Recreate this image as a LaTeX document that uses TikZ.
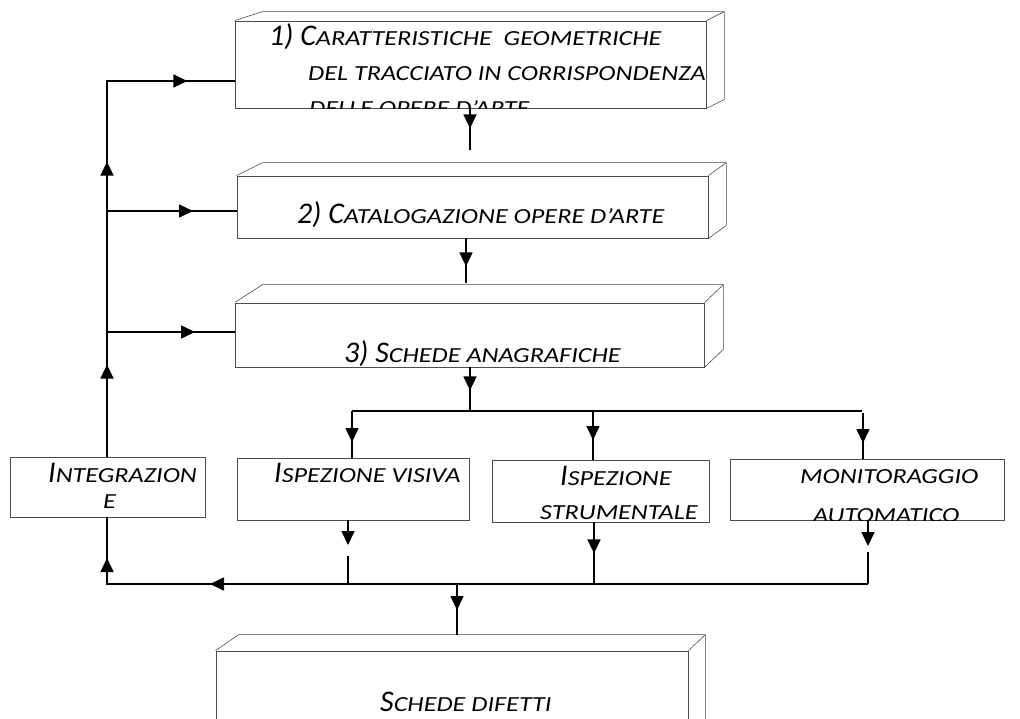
\documentclass[tikz,border=0pt]{standalone}
\usepackage{fontspec}
\setmainfont{Carlito}
\newfontfamily\pcfont{Carlito}[FakeStretch=1.22]
\usetikzlibrary{arrows.meta, calc, decorations.markings}

% maiuscoletto finto: lettere piccole
\newcommand\pc[1]{{\pcfont\fontsize{21.5}{25}\selectfont #1}}
% facce superiore e laterale dei blocchi 3D
\newcommand\facce[4]{\draw[face] (#1.north west) -- ++(#2,-#4) -- ($(#1.north east)+(#3,-#4)$) -- ($(#1.south east)+(#3,-#4)$) -- (#1.south east) (#1.north east) -- ++(#3,-#4);}

\begin{document}
\begin{tikzpicture}[
    x=1pt, y=-1pt,
    box/.style={draw=black!70, line width=0.8pt, inner sep=0pt},
    face/.style={draw=black!70, line width=0.6pt},
    testo/.style={anchor=base west, inner sep=0pt, font=\fontsize{30}{36}\selectfont\itshape},
    conn/.style={line width=1.6pt},
    tip/.style={-{Triangle[length=14pt, width=13pt]}},
    freccia/.style={postaction={decorate, decoration={markings, mark=at position #1 with {\arrow{Triangle[length=14pt, width=13pt]}}}}}
]
\useasboundingbox (0,0) rectangle (1020,718);
\clip (0,0) rectangle (1020,718);

% Blocchi
\node[box, minimum width=471pt, minimum height=87pt] (car) at (470.5,64.5) {};
\node[box, minimum width=471pt, minimum height=62pt] (cat) at (472.5,207) {};
\node[box, minimum width=469pt, minimum height=64pt] (sch) at (469.5,335) {};
\node[box, minimum width=195pt, minimum height=60pt] (integ) at (107.5,487) {};
\node[box, minimum width=232pt, minimum height=62pt] (vis) at (353,489) {};
\node[box, minimum width=217pt, minimum height=62pt] (strum) at (600.5,491) {};
\node[box, minimum width=274pt, minimum height=61pt] (monit) at (867,489.5) {};
\node[box, minimum width=472pt, minimum height=90pt] (dif) at (452,696) {};

\facce{car}{28}{18}{9}
\facce{cat}{26}{18}{13}
\facce{sch}{28}{19}{18}
\facce{dif}{23}{17}{16}

% Testi
\node[testo] (car1) at (269,45) {1) C\pc{ARATTERISTICHE\ \ GEOMETRICHE}};
\node[testo] (car2) at (308,80) {\pc{DEL TRACCIATO IN CORRISPONDENZA}};
\begin{scope}
  \clip (car.south west) rectangle (car.north east);
  \node[testo] (car3) at (309,115) {\pc{DELLE OPERE D’ARTE}};
\end{scope}
\node[testo] (cat1) at (297,223) {2) C\pc{ATALOGAZIONE OPERE D’ARTE}};
\node[testo] (sch1) at (344,362) {3) S\pc{CHEDE ANAGRAFICHE}};
\node[testo] (integ1) at (48,482) {I\pc{NTEGRAZION}};
\node[testo] (integ2) at (103,508) {\pc{E}};
\node[testo] (vis1) at (274,482) {I\pc{SPEZIONE VISIVA}};
\node[testo] (strum1) at (560,485) {I\pc{SPEZIONE}};
\node[testo] (strum2) at (540,519) {\pc{STRUMENTALE}};
\node[testo] (monit1) at (800,483) {\pc{MONITORAGGIO}};
\begin{scope}
  \clip (monit.south west) rectangle (monit.north east);
  \node[testo] (monit2) at (813,522) {\pc{AUTOMATICO}};
\end{scope}
\node[testo] (dif1) at (380,711) {S\pc{CHEDE DIFETTI}};

% Punti dei collegamenti
\coordinate (sAlto) at (107,81);
\coordinate (s2) at (107,211);
\coordinate (s3) at (107,332);
\coordinate (c1) at (470,150);
\coordinate (c2) at (466,283);
\coordinate (b0) at (470,411);
\coordinate (b1) at (352,411);
\coordinate (b2) at (593,411);
\coordinate (b3) at (862,411);
\coordinate (b3g) at (863,413);
\coordinate (v1) at (348,545);
\coordinate (v2) at (348,556);
\coordinate (m1) at (868,546);
\coordinate (m2) at (868,552);
\coordinate (d0) at (107,584);
\coordinate (d1) at (348,584);
\coordinate (d2) at (594,584);
\coordinate (d3) at (868,584);
\coordinate (dd) at (457,584);
\coordinate (e1) at (457,635);

% Ritorno a sinistra
\draw[conn, freccia=92pt, freccia=295pt, freccia=456pt] (integ.north -| sAlto) -- (sAlto) -- (car.west |- sAlto);
\draw[conn, freccia=86pt] (s2) -- (cat.west |- s2);
\draw[conn, freccia=88pt] (s3) -- (sch.west |- s3);

% Colonna centrale
\draw[conn, freccia=20pt] (car.south -| c1) -- (c1);
\draw[conn, freccia=28pt] (cat.south -| c2) -- (c2);
\draw[conn, freccia=23pt] (sch.south -| b0) -- (b0);
\draw[conn] (b1) -- (b3);
\draw[conn, freccia=31pt] (b1) -- (vis.north -| b1);
\draw[conn, freccia=29pt] (b2) -- (strum.north -| b2);
\draw[conn, freccia=30pt] (b3g) -- (monit.north -| b3g);

% Verso le schede difetti
\draw[conn, tip] (vis.south -| v1) -- (v1);
\draw[conn] (v2) -- (d1);
\draw[conn, freccia=31pt] (strum.south -| d2) -- (d2);
\draw[conn, tip] (monit.south -| m1) -- (m1);
\draw[conn] (m2) -- (d3);
\draw[conn, freccia=658pt, freccia=787pt] (d3) -- (d0) -- (integ.south -| d0);
\draw[conn, freccia=26pt] (dd) -- (e1);

\end{tikzpicture}
\end{document}
